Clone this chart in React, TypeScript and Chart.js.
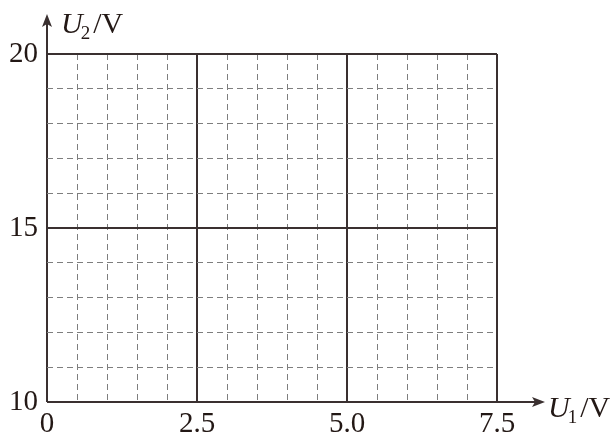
import React, { useEffect, useRef } from "react";
import { Chart, registerables } from "chart.js";

Chart.register(...registerables);

// ---- data ----
const xMin = 0;
const xMax = 7.5;
const xStep = 0.5;
const xMajor = [0, 2.5, 5.0, 7.5];
const xTickLabels = ["0", "2.5", "5.0", "7.5"];

const yMin = 10;
const yMax = 20;
const yStep = 1;
const yMajor = [10, 15, 20];
const yTickLabels = ["10", "15", "20"];

const xTitle = ["U", "1", "/V"];
const yTitle = ["U", "2", "/V"];

const points: { x: number; y: number }[] = [];

// ---- styles ----
const SOLID = "#3a3030";
const DASH = "#7e7e7e";
const TEXT = "#231815";
const FONT = "'Liberation Serif', 'Times New Roman', serif";

const near = (arr: number[], v: number) => arr.findIndex((m) => Math.abs(m - v) < 1e-6);

const axisPlugin = {
  id: "axisArrows",
  afterDraw(chart: any) {
    const { ctx } = chart;
    const xs = chart.scales.x;
    const ys = chart.scales.y;
    const x0 = xs.getPixelForValue(xMin);
    const y0 = ys.getPixelForValue(yMin);
    const yTop = ys.getPixelForValue(yMax);
    const xRight = xs.getPixelForValue(xMax);
    ctx.save();
    ctx.strokeStyle = SOLID;
    ctx.fillStyle = SOLID;
    ctx.lineWidth = 2;
    // y axis arrow
    const yTip = yTop - 40;
    ctx.beginPath();
    ctx.moveTo(x0, yTop);
    ctx.lineTo(x0, yTip + 6);
    ctx.stroke();
    ctx.beginPath();
    ctx.moveTo(x0, yTip);
    ctx.lineTo(x0 - 5, yTip + 13);
    ctx.lineTo(x0, yTip + 10);
    ctx.lineTo(x0 + 5, yTip + 13);
    ctx.closePath();
    ctx.fill();
    // x axis arrow
    const xTip = xRight + 48;
    ctx.beginPath();
    ctx.moveTo(xRight, y0);
    ctx.lineTo(xTip - 6, y0);
    ctx.stroke();
    ctx.beginPath();
    ctx.moveTo(xTip, y0);
    ctx.lineTo(xTip - 13, y0 - 5);
    ctx.lineTo(xTip - 10, y0);
    ctx.lineTo(xTip - 13, y0 + 5);
    ctx.closePath();
    ctx.fill();

    // titles
    ctx.fillStyle = TEXT;
    ctx.textBaseline = "alphabetic";
    ctx.textAlign = "left";
    const drawTitle = (parts: string[], x: number, base: number) => {
      ctx.font = `italic 30px ${FONT}`;
      ctx.fillText(parts[0], x, base);
      let cx = x + ctx.measureText(parts[0]).width;
      ctx.font = `19px ${FONT}`;
      ctx.fillText(parts[1], cx - 2, base + 6);
      cx += ctx.measureText(parts[1]).width + 1;
      ctx.font = `30px ${FONT}`;
      ctx.fillText(parts[2], cx, base);
    };
    drawTitle(yTitle, x0 + 14, yTip + 19);
    drawTitle(xTitle, xTip + 3, y0 + 15);
    ctx.restore();
  },
};

export default function App() {
  const ref = useRef<HTMLCanvasElement | null>(null);
  useEffect(() => {
    if (!ref.current) return;
    const chart = new Chart(ref.current, {
      type: "scatter",
      data: { datasets: [{ data: points, pointRadius: 0 }] },
      options: {
        animation: false,
        responsive: false,
        layout: { padding: { left: 0, top: 54, right: 115, bottom: 0 } },
        plugins: { legend: { display: false }, tooltip: { enabled: false } },
        scales: {
          x: {
            type: "linear",
            min: xMin,
            max: xMax,
            afterFit: (s: any) => {
              s.height = 34;
            },
            ticks: {
              stepSize: xStep,
              autoSkip: false,
              maxRotation: 0,
              padding: 5,
              color: TEXT,
              font: { family: FONT, size: 29 },
              callback: (v: any) => {
                const i = near(xMajor, Number(v));
                return i >= 0 ? xTickLabels[i] : "";
              },
            },
            grid: {
              drawTicks: false,
              color: (c: any) => (c.tick && near(xMajor, c.tick.value) >= 0 ? SOLID : DASH),
              lineWidth: (c: any) => (c.tick && near(xMajor, c.tick.value) >= 0 ? 2 : 1),
            },
            border: {
              display: false,
              dash: (c: any) => (c.tick && near(xMajor, c.tick.value) >= 0 ? [] : [6, 4]),
            },
          },
          y: {
            type: "linear",
            min: yMin,
            max: yMax,
            afterFit: (s: any) => {
              s.width = 47;
            },
            ticks: {
              stepSize: yStep,
              autoSkip: false,
              padding: 9,
              color: TEXT,
              font: { family: FONT, size: 29 },
              callback: (v: any) => {
                const i = near(yMajor, Number(v));
                return i >= 0 ? yTickLabels[i] : "";
              },
            },
            grid: {
              drawTicks: false,
              color: (c: any) => (c.tick && near(yMajor, c.tick.value) >= 0 ? SOLID : DASH),
              lineWidth: (c: any) => (c.tick && near(yMajor, c.tick.value) >= 0 ? 2 : 1),
            },
            border: {
              display: false,
              dash: (c: any) => (c.tick && near(yMajor, c.tick.value) >= 0 ? [] : [6, 4]),
            },
          },
        },
      },
      plugins: [axisPlugin],
    });
    return () => chart.destroy();
  }, []);
  return (
    <div style={{ position: "absolute", left: 0, top: 0, width: 612, height: 436, background: "#fff" }}>
      <canvas ref={ref} width={612} height={436} />
    </div>
  );
}
